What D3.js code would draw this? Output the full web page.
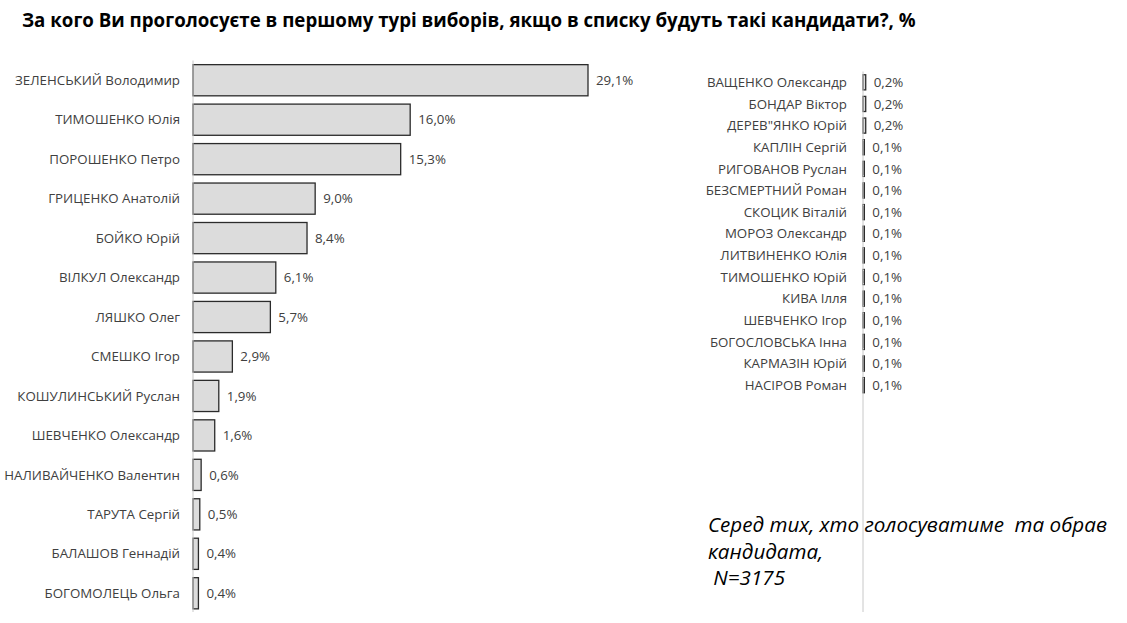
<!DOCTYPE html>
<html>
<head>
<meta charset="utf-8">
<script src="https://cdn.jsdelivr.net/npm/d3@7"></script>
<style>
  body { margin: 0; background: #fff; }
  text { font-family: "Open Sans", "Noto Sans", sans-serif; }
</style>
</head>
<body>
<div class="chart"></div>
<script>
// data
var leftNames = ["ЗЕЛЕНСЬКИЙ Володимир", "ТИМОШЕНКО Юлія", "ПОРОШЕНКО Петро", "ГРИЦЕНКО Анатолій",
  "БОЙКО Юрій", "ВІЛКУЛ Олександр", "ЛЯШКО Олег", "СМЕШКО Ігор", "КОШУЛИНСЬКИЙ Руслан",
  "ШЕВЧЕНКО Олександр", "НАЛИВАЙЧЕНКО Валентин", "ТАРУТА Сергій", "БАЛАШОВ Геннадій", "БОГОМОЛЕЦЬ Ольга"];
var leftValues = [29.1, 16.0, 15.3, 9.0, 8.4, 6.1, 5.7, 2.9, 1.9, 1.6, 0.6, 0.5, 0.4, 0.4];

var rightNames = ["ВАЩЕНКО Олександр", "БОНДАР Віктор", "ДЕРЕВ\"ЯНКО Юрій", "КАПЛІН Сергій",
  "РИГОВАНОВ Руслан", "БЕЗСМЕРТНИЙ Роман", "СКОЦИК Віталій", "МОРОЗ Олександр", "ЛИТВИНЕНКО Юлія",
  "ТИМОШЕНКО Юрій", "КИВА Ілля", "ШЕВЧЕНКО Ігор", "БОГОСЛОВСЬКА Інна", "КАРМАЗІН Юрій", "НАСІРОВ Роман"];
var rightValues = [0.2, 0.2, 0.2, 0.1, 0.1, 0.1, 0.1, 0.1, 0.1, 0.1, 0.1, 0.1, 0.1, 0.1, 0.1];

var titleText = "За кого Ви проголосуєте в першому турі виборів, якщо в списку будуть такі кандидати?, %";
var noteLines = ["Серед тих, хто голосуватиме  та обрав", "кандидата,", " N=3175"];

var svgWidth = 1127, svgHeight = 623;

var svg = d3.select(".chart")
  .append("svg")
  .attr("width", svgWidth)
  .attr("height", svgHeight);

var fmt = function(v) { return d3.format(".1f")(v).replace(".", ",") + "%"; };

// same px-per-percent on both panels
var pxPerPct = 395 / 29.1;

function drawPanel(names, values, opt) {
  var g = svg.append("g").attr("transform", `translate(${opt.x}, 0)`);

  var x = d3.scaleLinear().domain([0, 1]).range([0, pxPerPct]);
  var y = d3.scaleBand()
    .domain(names)
    .range([opt.top, opt.bottom])
    .paddingInner(opt.pad)
    .paddingOuter(opt.pad / 2);

  var rows = names.map(function(n, i) { return {name: n, value: values[i]}; });

  g.selectAll("rect")
    .data(rows)
    .enter()
    .append("rect")
    .attr("x", 0)
    .attr("y", d => y(d.name))
    .attr("width", d => x(d.value))
    .attr("height", y.bandwidth())
    .attr("fill", "#dcdcdc")
    .attr("stroke", "#2b2b2b")
    .attr("stroke-width", 1.3);

  // axis line
  g.append("line")
    .attr("x1", 0).attr("x2", 0)
    .attr("y1", opt.top).attr("y2", opt.axisEnd)
    .attr("stroke", "#c8c8c8")
    .attr("stroke-width", 1);

  g.selectAll(".name")
    .data(rows)
    .enter()
    .append("text")
    .attr("class", "name")
    .attr("x", -opt.labelGap)
    .attr("y", d => y(d.name) + y.bandwidth() / 2)
    .attr("dy", "0.35em")
    .attr("text-anchor", "end")
    .attr("font-size", opt.fontSize)
    .attr("fill", "#404040")
    .text(d => d.name);

  g.selectAll(".val")
    .data(rows)
    .enter()
    .append("text")
    .attr("class", "val")
    .attr("x", d => x(d.value) + opt.valGap)
    .attr("y", d => y(d.name) + y.bandwidth() / 2)
    .attr("dy", "0.35em")
    .attr("font-size", opt.fontSize)
    .attr("fill", "#404040")
    .text(d => fmt(d.value));
}

drawPanel(leftNames, leftValues, {x: 193, top: 60.5, bottom: 613, pad: 0.21, axisEnd: 612,
  labelGap: 13, valGap: 8, fontSize: 13.3});
drawPanel(rightNames, rightValues, {x: 863, top: 71.5, bottom: 396, pad: 0.3, axisEnd: 612,
  labelGap: 16, valGap: 8, fontSize: 13.3});

// title
svg.append("text")
  .attr("x", 22)
  .attr("y", 27)
  .attr("font-size", 18.7)
  .attr("font-weight", "bold")
  .attr("fill", "#000")
  .text(titleText);

// note
svg.append("g").selectAll("text")
  .data(noteLines)
  .enter()
  .append("text")
  .attr("x", 708)
  .attr("y", (d, i) => 532 + i * 26.5)
  .attr("font-size", 20.6)
  .attr("font-style", "italic")
  .attr("fill", "#000")
  .attr("xml:space", "preserve")
  .style("white-space", "pre")
  .text(d => d);
</script>
</body>
</html>
